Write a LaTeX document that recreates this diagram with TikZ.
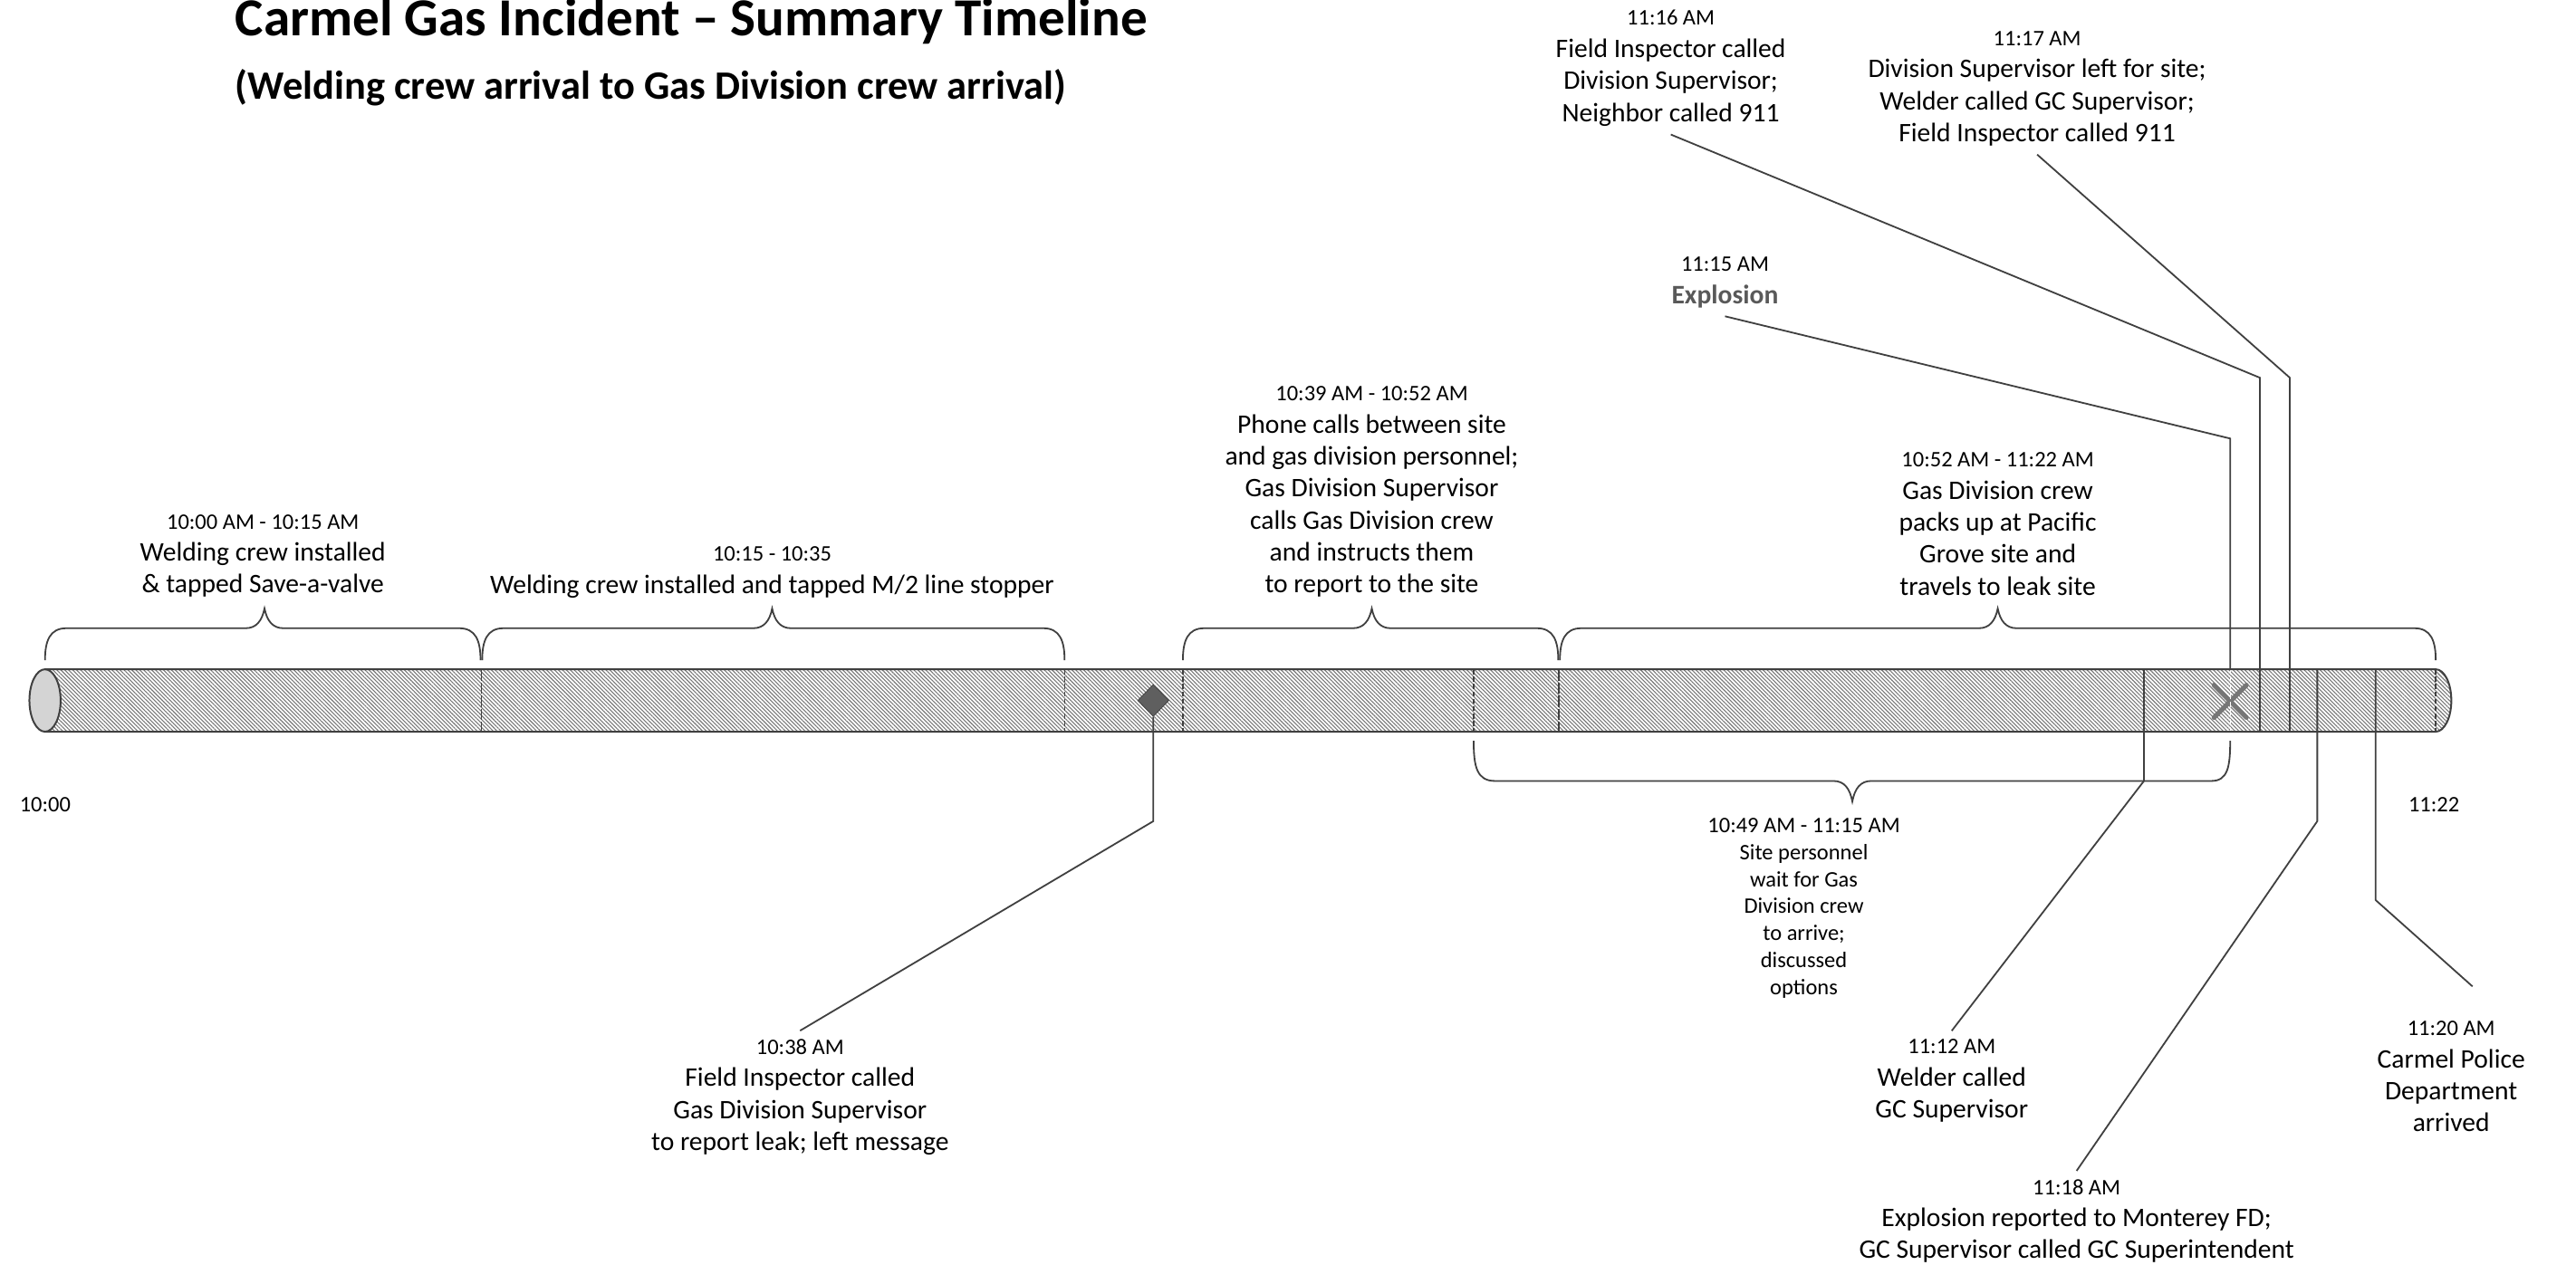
\documentclass[tikz,border=0pt]{standalone}
\usepackage{fontspec}
\setmainfont{Carlito}
\usetikzlibrary{patterns.meta,shapes.geometric,shapes.misc}

\definecolor{linegray}{RGB}{64,64,64}
\definecolor{hatchgray}{RGB}{120,120,120}
\definecolor{facegray}{RGB}{212,212,212}
\definecolor{markgray}{RGB}{118,118,118}
\definecolor{leakgray}{RGB}{95,95,95}
\definecolor{textgray}{RGB}{89,89,89}

\newcommand{\tltitle}{\fontsize{32.6}{39}\selectfont\bfseries}
\newcommand{\tlsub}{\fontsize{24.5}{29}\selectfont\bfseries}
\newcommand{\tlbody}{\fontsize{16.3}{19.5}\selectfont}
\newcommand{\tltime}{\fontsize{13.5}{16.5}\selectfont}

\begin{document}
\begin{tikzpicture}[x=1pt,y=-1pt,
  lbl/.style={align=center,font=\tlbody,inner sep=5pt},
  smalllbl/.style={align=center,font=\tltime,inner sep=5pt},
  conn/.style={draw=linegray,line width=1pt},
  outline/.style={draw=linegray,line width=1.1pt},
  divider/.style={draw=linegray,line width=0.9pt,dash pattern=on 3pt off 1.5pt},
  longdiv/.style={draw=linegray,line width=0.9pt,dash pattern=on 7pt off 1pt},
  brace/.style={draw=linegray,line width=1pt}]

\useasboundingbox (0,0) rectangle (1568,770);
\coordinate (pipetop) at (0,407.5);
\coordinate (pipebot) at (0,445.5);

% Title
\node[anchor=base west,font=\tltitle,inner sep=0] (title) at (143,22) {Carmel Gas Incident -- Summary Timeline};
\node[anchor=base west,font=\tlsub,inner sep=0] (subtitle) at (143,60.5) {(Welding crew arrival to Gas Division crew arrival)};

% Pipe (hatched body, shaded end face)
\fill[pattern={Lines[angle=-45,distance=1.7pt,line width=0.6pt]},pattern color=hatchgray]
  (27.4,407.5) -- (1482.6,407.5) arc[start angle=-90,end angle=90,x radius=9.5,y radius=19] -- (27.4,445.5) -- cycle;
\filldraw[fill=facegray,outline] (27.4,426.5) ellipse [x radius=9.5,y radius=19];
\foreach \x in {648,720,897,1482.6}
  \draw[divider] (\x,407.5) -- (\x,445.5);
\foreach \x in {293,949}
  \draw[longdiv] (\x,407.5) -- (\x,445.5);

% Markers: leak report and explosion
\node[diamond,draw=linegray,fill=leakgray,inner sep=0,minimum width=19,minimum height=19.5] (leak) at (702,426.5) {};
\node[cross out,draw=markgray,line width=2.8pt,line cap=round,inner sep=0,minimum size=17] (blast) at (1357.5,427) {};
\draw[white,line width=0.8pt,dash pattern=on 3pt off 2pt] (1357.5,407.5) -- (1357.5,445.5);
\draw[outline] (27.4,407.5) -- (1482.6,407.5) arc[start angle=-90,end angle=90,x radius=9.5,y radius=19] -- (27.4,445.5);

% Braces above the pipe
\foreach \a/\m/\b in {27.4/161/292.5, 293.5/470/648, 720/835/948.5, 949.5/1216/1482.6}
  \draw[brace] (\a,402) .. controls (\a,390) and (\a+3,382.5) .. (\a+13,382.5) -- (\m-11.5,382.5)
    .. controls (\m-5,382.5) and (\m-1.5,378) .. (\m,370.5) .. controls (\m+1.5,378) and (\m+5,382.5) .. (\m+11.5,382.5)
    -- (\b-13,382.5) .. controls (\b-3,382.5) and (\b,390) .. (\b,402);

% Brace below the pipe
\draw[brace] (897,451) .. controls (897,467) and (899,475.5) .. (910,475.5) -- (1116,475.5)
  .. controls (1122.5,475.5) and (1126,480) .. (1127.5,488) .. controls (1129,480) and (1132.5,475.5) .. (1139,475.5)
  -- (1346,475.5) .. controls (1356,475.5) and (1357.5,467) .. (1357.5,451);

% Labels above
\node[lbl] (t1000) at (160,338.5) {{\tltime 10:00 AM - 10:15 AM}\\Welding crew installed\\\& tapped Save-a-valve};
\node[lbl] (t1015) at (470,348.5) {{\tltime 10:15 - 10:35}\\Welding crew installed and tapped M/2 line stopper};
\node[lbl] (t1039) at (835,299.5) {{\tltime 10:39 AM - 10:52 AM}\\Phone calls between site\\and gas division personnel;\\Gas Division Supervisor\\calls Gas Division crew\\and instructs them\\to report to the site};
\node[lbl] (t1052) at (1216,319) {{\tltime 10:52 AM - 11:22 AM}\\Gas Division crew\\packs up at Pacific\\Grove site and\\travels to leak site};
\node[lbl] (t1115) at (1050,172) {{\tltime 11:15 AM}\\\textcolor{textgray}{\bfseries Explosion}};
\node[lbl] (t1116) at (1017,41.5) {{\tltime 11:16 AM}\\Field Inspector called\\Division Supervisor;\\Neighbor called 911};
\node[lbl] (t1117) at (1240,54) {{\tltime 11:17 AM}\\Division Supervisor left for site;\\Welder called GC Supervisor;\\Field Inspector called 911};

% End times
\node[smalllbl] (start) at (27.5,490) {10:00};
\node[smalllbl] (finish) at (1481.5,490) {11:22};

% Labels below
\node[lbl] (t1038) at (487,668) {{\tltime 10:38 AM}\\Field Inspector called\\Gas Division Supervisor\\to report leak; left message};
\node[smalllbl] (t1049) at (1098,553) {10:49 AM - 11:15 AM\\Site personnel\\wait for Gas\\Division crew\\to arrive;\\discussed\\options};
\node[lbl] (t1112) at (1188,658) {{\tltime 11:12 AM}\\Welder called\\GC Supervisor};
\node[lbl] (t1118) at (1264,743.5) {{\tltime 11:18 AM}\\Explosion reported to Monterey FD;\\GC Supervisor called GC Superintendent};
\node[lbl] (t1120) at (1492,655.5) {{\tltime 11:20 AM}\\Carmel Police\\Department\\arrived};

% Connectors
\coordinate (k1038) at (702,500);
\coordinate (k1112) at (1305,475.5);
\coordinate (k1115) at (1357.5,267);
\coordinate (k1116) at (1375.6,230);
\coordinate (k1117) at (1393.8,230);
\coordinate (k1118) at (1410.5,500);
\coordinate (k1120) at (1446,548);
\draw[conn] (leak.south) -- (k1038) -- (t1038.north);
\draw[conn] (k1112 |- pipetop) -- (k1112) -- (t1112.north);
\draw[conn] (t1115.south) -- (k1115) -- (k1115 |- pipetop);
\draw[conn] (t1116.south) -- (k1116) -- (k1116 |- pipebot);
\draw[conn] (t1117.south) -- (k1117) -- (k1117 |- pipebot);
\draw[conn] (k1118 |- pipetop) -- (k1118) -- (t1118.north);
\draw[conn] (k1120 |- pipetop) -- (k1120) -- ([xshift=13pt,yshift=16pt]t1120.north);

\end{tikzpicture}
\end{document}
